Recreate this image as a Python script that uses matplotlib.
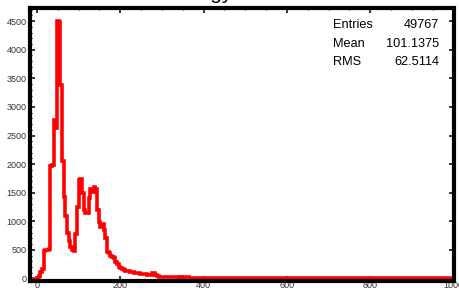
import numpy as np
import matplotlib
matplotlib.use("Agg")
import matplotlib.pyplot as plt
from matplotlib.ticker import MultipleLocator

# ---- data -----------------------------------------------------------------
bin_width = 4
first_edge = -20
main_counts = [
    0, 0, 0, 0, 0,                      # -20 .. 0
    10, 40, 110, 170, 480, 500, 490, 510,  # 0 .. 32
    1960, 1980, 2780, 2640, 4510, 4490, 3380, 2050,  # 32 .. 64
    1420, 1100, 790, 660, 550, 490, 480, 780,        # 64 .. 96
    1250, 1720, 1740, 1500, 1190, 1150, 1140, 1400,  # 96 .. 128
    1570, 1520, 1600, 1560, 1190, 980, 900, 960,     # 128 .. 160
    840, 700, 470, 440, 400, 370, 360, 280,          # 160 .. 192
    260, 200, 190, 170, 150, 140, 135, 130,          # 192 .. 224
    120, 110, 100, 95, 90, 88, 85, 80,               # 224 .. 256
    75, 72, 65, 60, 58, 100, 105, 70,                # 256 .. 288
    40, 35, 30, 30, 28, 25, 27, 22,                  # 288 .. 320
    24, 20, 22, 18, 20, 17, 19, 16,                  # 320 .. 352
    30, 35, 25, 15, 14, 12, 13, 11,                  # 352 .. 384
    10, 12, 9, 10, 8, 9, 7, 8,                       # 384 .. 416
    6, 7, 6, 5, 6, 5, 4, 5,                          # 416 .. 448
    4, 3, 4, 3, 3, 2, 3, 2,                          # 448 .. 480
    2, 2, 2, 2, 2,                                   # 480 .. 500
]
tail_counts = [
    2, 2, 2, 2, 2, 2, 2, 2, 2, 2, 2, 2, 2, 2, 2, 2, 2, 2, 2, 2, 2, 2, 2, 2, 2,
    1, 1, 1, 1, 1, 1, 1, 1, 1, 1, 1, 1, 1, 1, 1, 1, 1, 1, 1, 1, 1, 1, 1, 1, 1,
    1, 1, 1, 1, 1, 1, 1, 1, 1, 1, 1, 1, 1, 1, 1, 1, 1, 1, 1, 1, 1, 1, 1, 1, 1,
    1, 1, 1, 1, 1, 1, 1, 1, 1, 1, 1, 1, 1, 1, 1, 1, 1, 1, 1, 1, 1, 1, 1, 1, 1,
    1, 1, 1, 1, 1, 1, 1, 1, 1, 1, 1, 1, 1, 1, 1, 1, 1, 1, 1, 1, 1, 1, 1, 1, 1,
]
counts = np.array(main_counts + tail_counts, dtype=float)
edges = first_edge + bin_width * np.arange(len(counts) + 1)

title = "Energy"
stat_names = ["Entries", "Mean", "RMS"]
stat_values = ["49767", "101.1375", "62.5114"]

# ---- figure ---------------------------------------------------------------
W, H = 459, 290
fig = plt.figure(figsize=(W / 100, H / 100), dpi=100)
plt.rcParams['font.family'] = ['Liberation Sans', 'DejaVu Sans']

left, right, top, bottom = 29.5, 453.5, 8.0, 280.8
ax = fig.add_axes([left / W, 1 - bottom / H, (right - left) / W, (bottom - top) / H])

ax.stairs(counts, edges, baseline=None, color='#ff0000', linewidth=2.6, zorder=3)

ax.set_xlim(-18, 1000)
ax.set_ylim(-40, 4730)

ax.xaxis.set_major_locator(MultipleLocator(200))
ax.xaxis.set_minor_locator(MultipleLocator(50))
ax.yaxis.set_major_locator(MultipleLocator(500))
ax.yaxis.set_minor_locator(MultipleLocator(100))

for s in ax.spines.values():
    s.set_linewidth(3.0)
    s.set_color('black')
    s.set_zorder(4)

ax.tick_params(which='both', direction='in', top=True, right=True, color='black')
ax.tick_params(which='major', length=3.4, width=1.1, labelsize=6.5, labelcolor='#333333', pad=2.0)
ax.tick_params(which='minor', length=1.7, width=0.9)
ax.tick_params(axis='x', which='major', pad=0.4)

# title, mostly clipped by the top edge of the image
fig.text(233 / W, 1 + 1.0 / H, title, ha='right', va='baseline', fontsize=15, color='black')

# statistics box
rows_baseline = [28.0, 47.0, 64.7]
for name, val, yb in zip(stat_names, stat_values, rows_baseline):
    fig.text(333 / W, 1 - yb / H, name, ha='left', va='baseline', fontsize=9.2, color='black')
    fig.text(439.5 / W, 1 - yb / H, val, ha='right', va='baseline', fontsize=9.2, color='black')

fig.savefig('out.png', dpi=100)
